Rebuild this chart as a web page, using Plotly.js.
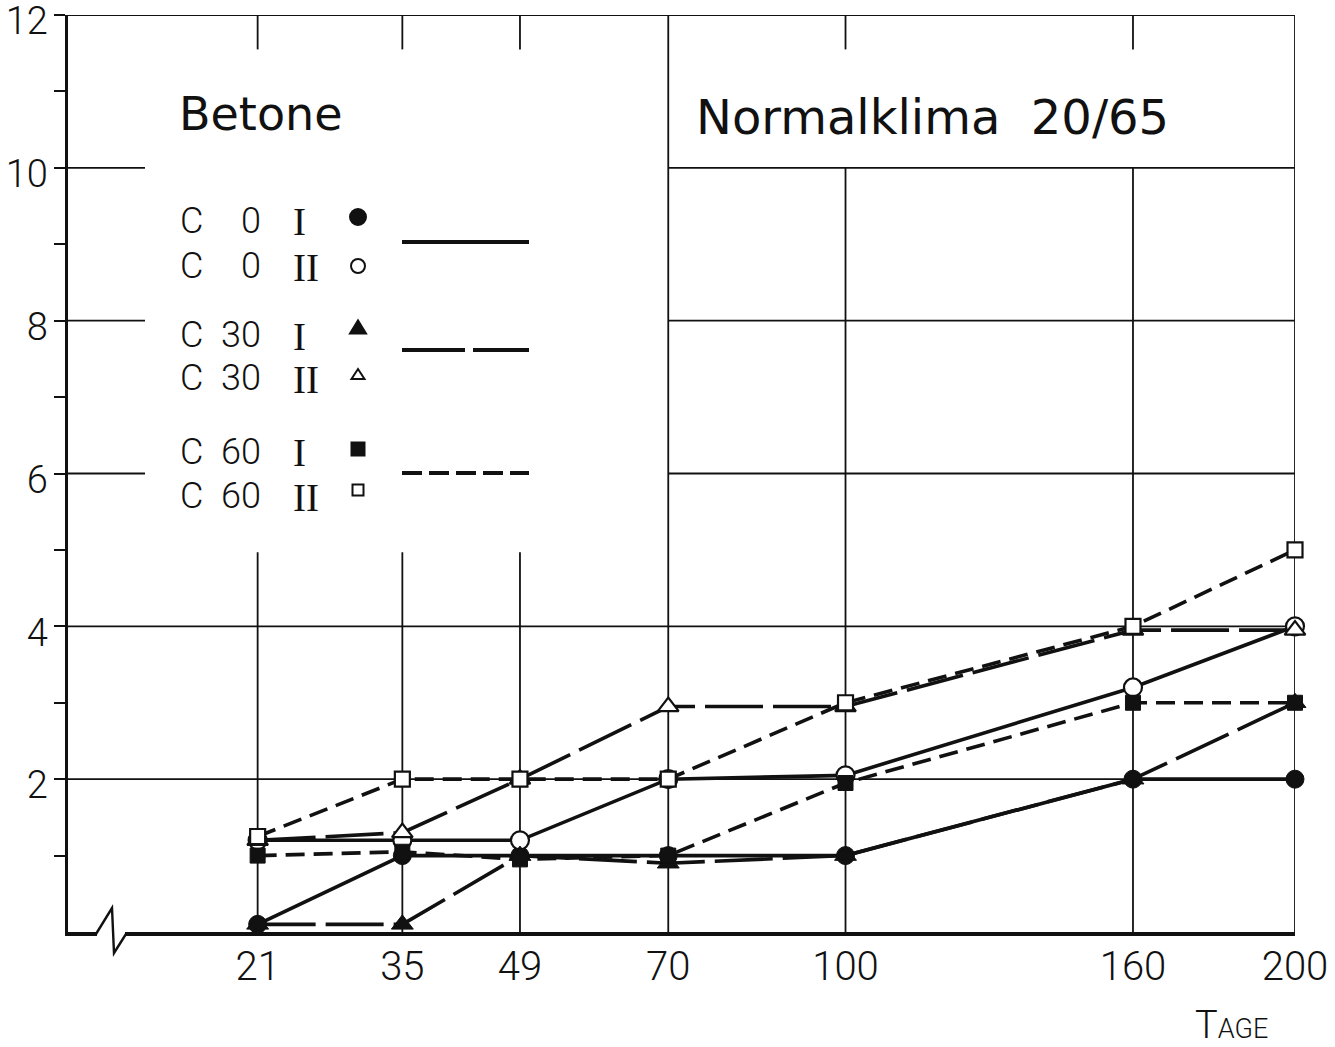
<!DOCTYPE html>
<html><head><meta charset="utf-8">
<script src="https://cdn.plot.ly/plotly-3.0.1.min.js"></script>
<style>body{margin:0;background:#fff}#chart{width:1335px;height:1047px}</style>
</head><body><div id="chart"></div>
<script>
// ---- data ----
const days = [21, 35, 49, 70, 100, 160, 200];
const dayLabels = ['21', '35', '49', '70', '100', '160', '200'];
const yTickVals = [1, 2, 3, 4, 5, 6, 7, 8, 9, 10, 11, 12];
const yTickText = ['', '2', '', '4', '', '6', '', '8', '', '10', '', '12'];
const c0_I   = [0.1, 1.0, 1.0, 1.0, 1.0, 2.0, 2.0];
const c0_II  = [1.2, 1.2, 1.2, 2.0, 2.05, 3.2, 4.0];
const c30_I  = [0.1, 0.1, 1.0, 0.9, 1.0, 2.0, 3.0];
const c30_II = [1.2, 1.3, 2.0, 2.95, 2.95, 3.95, 3.95];
const c60_I  = [1.0, 1.05, 0.95, 1.0, 1.95, 3.0, 3.0];
const c60_II = [1.25, 2.0, 2.0, 2.0, 3.0, 4.0, 5.0];
const legendRows = [['C', '0', 'I'], ['C', '0', 'II'], ['C', '30', 'I'], ['C', '30', 'II'], ['C', '60', 'I'], ['C', '60', 'II']];

// ---- geometry helpers (pixel -> paper) ----
const L = 68, R = 1295, T = 15, B = 932;
const PW = R - L, PH = B - T;
const X = px => (px - L) / PW;
const Y = py => (B - py) / PH;
const sx = d => Math.sqrt(d);   // square-root time axis

const INK = '#111';
const numFont = 'Roboto, "Liberation Sans", sans-serif';
const LONG = '58px,10px', SHORT = '19px,9px';

const series = [
  {y: c0_I,   dash: 'solid', sym: 'circle',      open: false, size: 18},
  {y: c0_II,  dash: 'solid', sym: 'circle',      open: true,  size: 18},
  {y: c30_I,  dash: LONG,    sym: 'triangle-up', open: false, size: 19},
  {y: c30_II, dash: LONG,    sym: 'triangle-up', open: true,  size: 18},
  {y: c60_I,  dash: SHORT,   sym: 'square',      open: false, size: 15},
  {y: c60_II, dash: SHORT,   sym: 'square',      open: true,  size: 15}
];
const xs = days.map(sx);
const traces = [];
series.forEach(s => traces.push({
  x: xs, y: s.y, type: 'scatter', mode: 'lines', cliponaxis: false,
  line: {color: INK, width: 3.6, dash: s.dash}, hoverinfo: 'skip'
}));
series.forEach(s => traces.push({
  x: xs, y: s.y, type: 'scatter', mode: 'markers', cliponaxis: false,
  marker: {symbol: s.sym, size: s.size, color: s.open ? '#fff' : INK,
           line: {color: INK, width: s.open ? 2.2 : 1}}, hoverinfo: 'skip'
}));

// ---- grid (partial, as in the drawing) ----
const shapes = [];
const gl = {color: INK, width: 1.8};
const vSegs = {21: [[11.55, 12], [0, 4.97]], 35: [[11.55, 12], [0, 4.97]], 49: [[11.55, 12], [0, 4.97]],
               70: [[0, 12]], 100: [[11.55, 12], [0, 10]], 160: [[11.55, 12], [0, 10]], 200: [[0, 12]]};
days.forEach(d => vSegs[d].forEach(seg => shapes.push({type: 'line', xref: 'x', yref: 'y',
  x0: sx(d), x1: sx(d), y0: seg[0], y1: seg[1], line: gl, layer: 'below'})));
// top border
shapes.push({type: 'line', xref: 'paper', yref: 'y', x0: X(56), x1: 1, y0: 12, y1: 12, line: {color: INK, width: 2}, layer: 'below'});
[2, 4].forEach(v => shapes.push({type: 'line', xref: 'paper', yref: 'y', x0: 0, x1: 1, y0: v, y1: v, line: gl, layer: 'below'}));
[6, 8, 10].forEach(v => {
  shapes.push({type: 'line', xref: 'paper', yref: 'y', x0: 0, x1: X(145), y0: v, y1: v, line: gl, layer: 'below'});
  shapes.push({type: 'line', xref: 'x', yref: 'y', x0: sx(70), x1: sx(200), y0: v, y1: v, line: gl, layer: 'below'});
});
// axis break
shapes.push({type: 'rect', xref: 'paper', yref: 'paper', x0: X(97), x1: X(125), y0: Y(941), y1: Y(926),
  fillcolor: '#fff', line: {width: 0}, layer: 'above'});
shapes.push({type: 'path', xref: 'paper', yref: 'paper', layer: 'above', line: {color: INK, width: 2.4},
  path: `M ${X(96)},${Y(934)} L ${X(112)},${Y(908)} L ${X(114)},${Y(953)} L ${X(126)},${Y(934)}`});

// ---- legend block (drawn) ----
const rowY = [221, 266, 335, 378, 452, 496];
const annotations = [];
legendRows.forEach((r, i) => {
  annotations.push({xref: 'paper', yref: 'paper', x: X(178), y: Y(rowY[i]), xanchor: 'left', yanchor: 'middle',
    text: r[0], showarrow: false, font: {family: numFont, size: 36, weight: 300, color: INK}});
  annotations.push({xref: 'paper', yref: 'paper', x: X(263), y: Y(rowY[i]), xanchor: 'right', yanchor: 'middle',
    text: r[1], showarrow: false, font: {family: numFont, size: 36, weight: 300, color: INK}});
  annotations.push({xref: 'paper', yref: 'paper', x: X(291), y: Y(rowY[i] + 1), xanchor: 'left', yanchor: 'middle',
    text: r[2], showarrow: false, font: {family: '"Liberation Serif", "DejaVu Serif", serif', size: 39, color: INK}});
});
// legend symbols
const cx = 358;
const circ = (cy, r, filled) => ({type: 'circle', xref: 'paper', yref: 'paper', x0: X(cx - r), x1: X(cx + r), y0: Y(cy + r), y1: Y(cy - r),
  fillcolor: filled ? INK : '#fff', line: {color: INK, width: 2}, layer: 'above'});
const tri = (cy, w, h, filled) => ({type: 'path', xref: 'paper', yref: 'paper', layer: 'above',
  path: `M ${X(cx - w / 2)},${Y(cy + h / 2)} L ${X(cx + w / 2)},${Y(cy + h / 2)} L ${X(cx)},${Y(cy - h / 2)} Z`,
  fillcolor: filled ? INK : '#fff', line: {color: INK, width: 2}});
const sq = (cy, s, filled) => ({type: 'rect', xref: 'paper', yref: 'paper', x0: X(cx - s / 2), x1: X(cx + s / 2), y0: Y(cy + s / 2), y1: Y(cy - s / 2),
  fillcolor: filled ? INK : '#fff', line: {color: INK, width: 2}, layer: 'above'});
shapes.push(circ(217, 8, true), circ(266, 7, false), tri(327, 16, 13, true), tri(374, 13, 10, false), sq(449, 13, true), sq(490, 11, false));
// legend line samples
[[242, 'solid'], [350, '63px,8px'], [473, '20px,7px']].forEach(s => shapes.push({type: 'line', xref: 'paper', yref: 'paper',
  x0: X(402), x1: X(529), y0: Y(s[0]), y1: Y(s[0]), line: {color: INK, width: 4, dash: s[1]}, layer: 'above'}));

// titles
annotations.push({xref: 'paper', yref: 'paper', x: X(177), y: Y(114), xanchor: 'left', yanchor: 'middle',
  text: 'Betone', showarrow: false, font: {family: '"DejaVu Sans", sans-serif', size: 46, color: INK}});
annotations.push({xref: 'paper', yref: 'paper', x: X(694), y: Y(117), xanchor: 'left', yanchor: 'middle',
  text: 'Normalklima&nbsp;&nbsp;20/65', showarrow: false, font: {family: '"DejaVu Sans", sans-serif', size: 48, color: INK}});
annotations.push({xref: 'paper', yref: 'paper', x: X(1193), y: Y(1025), xanchor: 'left', yanchor: 'middle',
  text: 'T<span style="font-size:27px">AGE</span>', showarrow: false, font: {family: numFont, size: 38, weight: 300, color: INK}});

const layout = {
  width: 1335, height: 1047, margin: {l: L, r: 1335 - R, t: T, b: 1047 - B, pad: 0},
  paper_bgcolor: '#fff', plot_bgcolor: '#fff', showlegend: false,
  xaxis: {range: [2.835, sx(200)], tickvals: xs, ticktext: dayLabels, showgrid: false, zeroline: false,
    showline: true, linewidth: 3.5, linecolor: INK, ticks: '', ticklabelstandoff: -4, ticklabeloverflow: 'allow',
    tickfont: {family: numFont, size: 40, weight: 300, color: INK}},
  yaxis: {range: [0, 12], tickvals: yTickVals, ticktext: yTickText, showgrid: false, zeroline: false,
    showline: true, linewidth: 3.5, linecolor: INK, ticks: 'outside', ticklen: 11, tickwidth: 2, tickcolor: INK,
    ticklabelstandoff: -2, ticklabelshift: 6, ticklabeloverflow: 'allow',
    tickfont: {family: numFont, size: 38, weight: 300, color: INK}},
  shapes: shapes, annotations: annotations
};
Plotly.newPlot('chart', traces, layout, {staticPlot: true, displayModeBar: false});
</script>
</body></html>
